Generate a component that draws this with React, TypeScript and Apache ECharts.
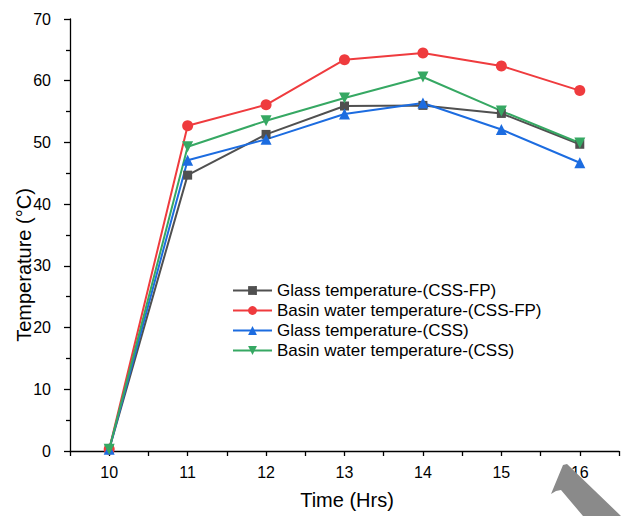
import React, { useEffect, useRef } from "react";
import * as echarts from "echarts";

const hours = [10, 11, 12, 13, 14, 15, 16];
const glassCSSFP = [0.3, 44.7, 51.3, 55.9, 56.0, 54.7, 49.7];
const basinCSSFP = [0.3, 52.7, 56.1, 63.4, 64.5, 62.4, 58.4];
const glassCSS = [0.3, 47.1, 50.5, 54.6, 56.4, 52.1, 46.7];
const basinCSS = [0.3, 49.3, 53.5, 57.2, 60.6, 55.1, 49.9];
const seriesNames = [
  "Glass temperature-(CSS-FP)",
  "Basin water temperature-(CSS-FP)",
  "Glass temperature-(CSS)",
  "Basin water temperature-(CSS)",
];
const xTitle = "Time (Hrs)";
const yTitle = "Temperature (°C)";

const FONT = "Liberation Sans, Arial, sans-serif";

export default function App() {
  const ref = useRef<HTMLDivElement>(null);
  useEffect(() => {
    if (!ref.current) return;
    const chart = echarts.init(ref.current, undefined, { renderer: "svg" });
    const mk = (name: string, vals: number[], color: string, symbol: string, size: number, rotate = 0) => ({
      name,
      type: "line",
      data: hours.map((h, i) => [h, vals[i]]),
      symbol,
      symbolSize: size,
      symbolRotate: rotate,
      lineStyle: { color, width: 2 },
      itemStyle: { color },
      emphasis: { disabled: true },
    });
    chart.setOption({
      animation: false,
      textStyle: { fontFamily: FONT },
      grid: { left: 70, right: 0, top: 19, bottom: 65 },
      xAxis: {
        type: "value",
        min: 9.5,
        max: 16.5,
        interval: 0.5,
        splitLine: { show: false },
        axisLine: { show: true, lineStyle: { color: "#000", width: 1.3 } },
        axisTick: { show: true, length: 5, lineStyle: { color: "#000", width: 1.3 } },
        axisLabel: {
          fontSize: 16,
          color: "#000",
          fontFamily: FONT,
          margin: 13,
          formatter: (v: number) => (Number.isInteger(v) ? String(v) : ""),
        },
      },
      yAxis: {
        type: "value",
        min: 0,
        max: 70,
        interval: 10,
        splitLine: { show: false },
        axisLine: { show: true, lineStyle: { color: "#000", width: 1.3 } },
        axisTick: { show: true, length: 6, lineStyle: { color: "#000", width: 1.3 } },
        minorTick: { show: true, splitNumber: 2, length: 4, lineStyle: { color: "#000", width: 1.3 } },
        axisLabel: { fontSize: 16, color: "#000", fontFamily: FONT, margin: 19 },
      },
      legend: {
        orient: "vertical",
        left: 232,
        top: 282,
        padding: 0,
        itemWidth: 39,
        itemHeight: 11,
        itemGap: 3,
        textStyle: { fontSize: 17, lineHeight: 17, color: "#000", fontFamily: FONT },
        data: seriesNames,
      },
      graphic: [
        {
          type: "text",
          x: 24,
          y: 265,
          rotation: Math.PI / 2,
          style: { text: yTitle, fontSize: 20, fontFamily: FONT, fill: "#000", align: "center", verticalAlign: "middle" },
        },
        {
          type: "text",
          x: 347,
          y: 500,
          style: { text: xTitle, fontSize: 20, fontFamily: FONT, fill: "#000", align: "center", verticalAlign: "middle" },
        },
        {
          type: "polygon",
          z: 100,
          shape: {
            points: [
              [563, 465],
              [567, 464],
              [621, 516],
              [583, 516],
              [561, 490],
              [556, 491],
              [551, 494],
            ],
          },
          style: { fill: "#8a8a8a" },
        },
      ],
      series: [
        mk(seriesNames[0], glassCSSFP, "#505050", "rect", 9),
        mk(seriesNames[1], basinCSSFP, "#ef3b3e", "circle", 11),
        mk(seriesNames[2], glassCSS, "#1c6ce0", "triangle", 11),
        mk(seriesNames[3], basinCSS, "#36a863", "triangle", 11, 180),
      ],
    });
    return () => chart.dispose();
  }, []);
  return <div ref={ref} style={{ position: "absolute", left: 0, top: 0, width: 622, height: 516 }} />;
}
